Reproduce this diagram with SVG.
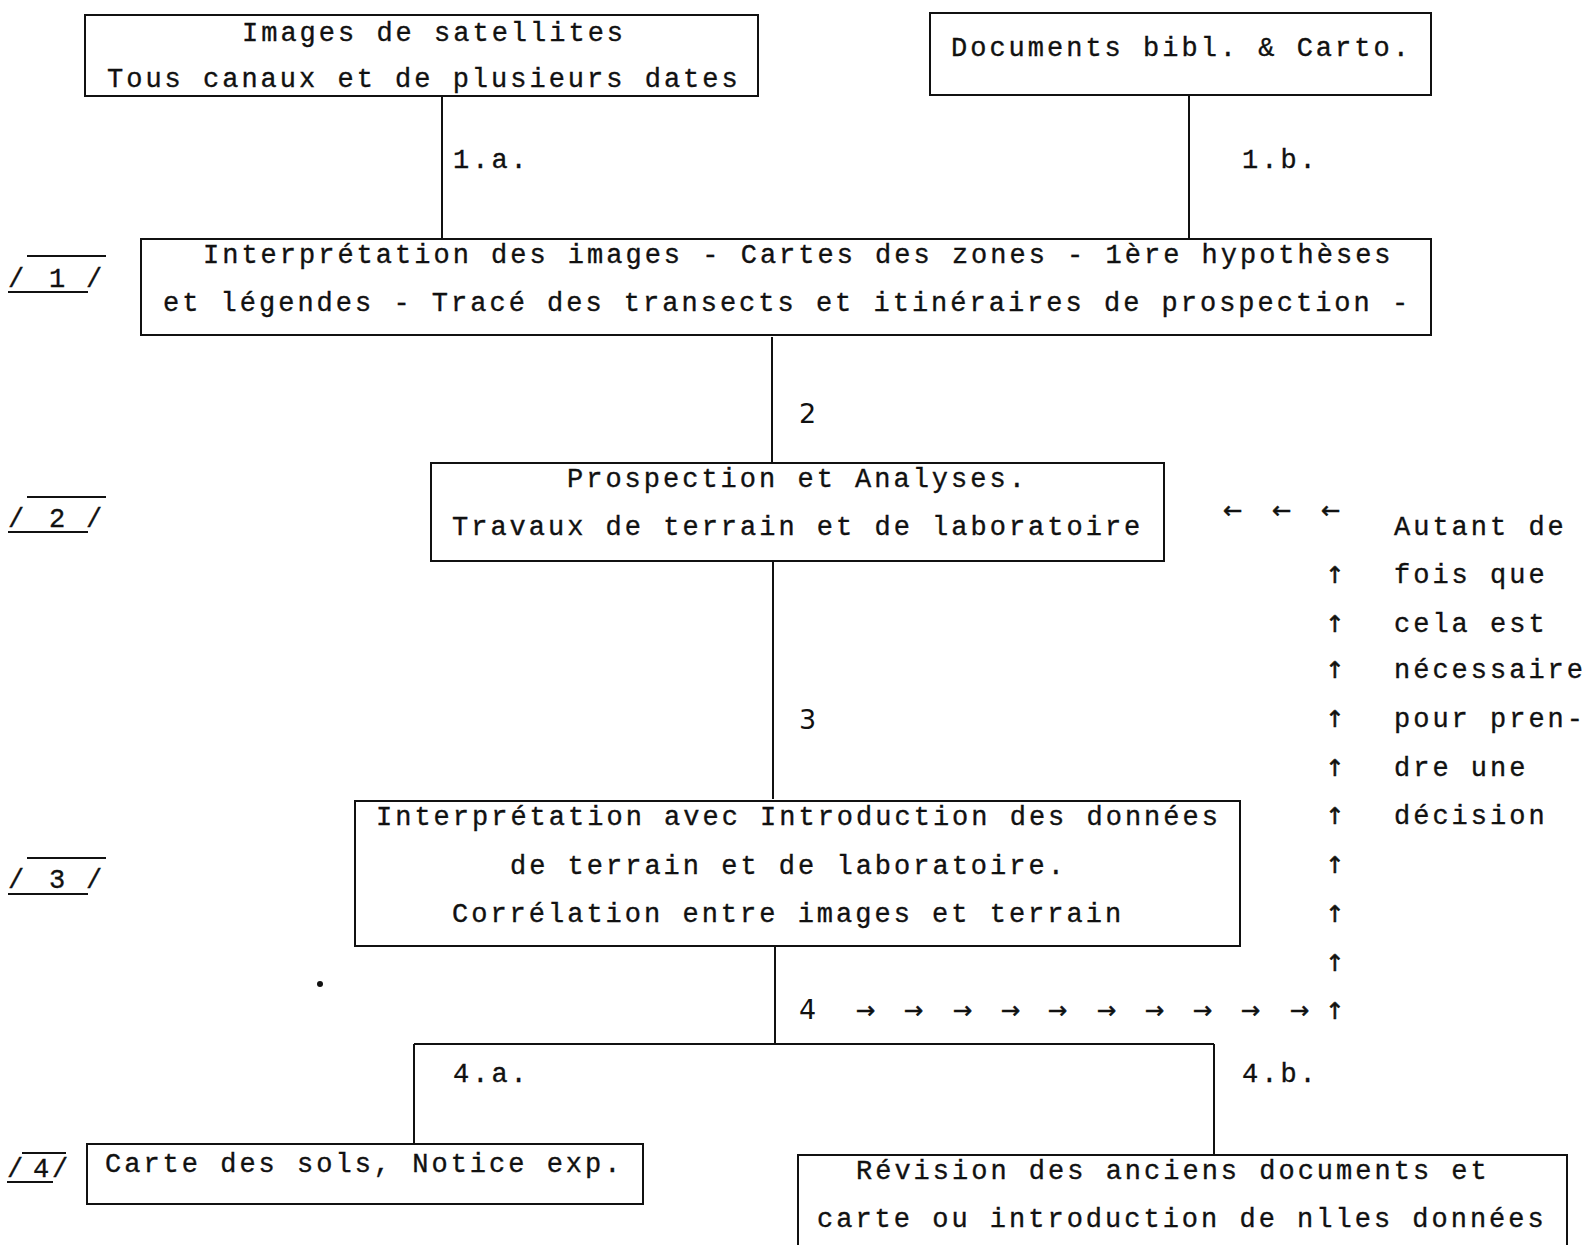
<svg xmlns="http://www.w3.org/2000/svg" width="1582" height="1245" viewBox="0 0 1582 1245">
<style>
.t{font-family:"Liberation Mono","DejaVu Sans Mono",monospace;font-size:27px;letter-spacing:3px;fill:#111;stroke:#111;stroke-width:0.35}
.n{font-family:"DejaVu Sans","Liberation Sans",sans-serif;font-size:27px;fill:#111}
.a{font-family:"DejaVu Sans","Liberation Mono",sans-serif;font-size:23px;fill:#111;stroke:#111;stroke-width:0.6}
.b{fill:none;stroke:#111;stroke-width:2}
.c{fill:none;stroke:#111;stroke-width:2}
</style>
<rect width="1582" height="1245" fill="#fff"/>
<g id="connectors">
<path class="c" d="M442 96V238M1189 95V238M772 337V462M773 561V799M775 946V1044M414 1044H1214M414 1044V1145M1214 1044V1155"/>
<text class="t" x="453" y="168">1.a.</text>
<text class="t" x="1242" y="168">1.b.</text>
<text class="n" x="799" y="423">2</text>
<text class="n" x="799" y="729">3</text>
<text class="n" x="799" y="1019">4</text>
<text class="t" x="453" y="1082">4.a.</text>
<text class="t" x="1242" y="1082">4.b.</text>
<g class="a">
<text x="1223" y="518">←</text><text x="1272" y="518">←</text><text x="1321" y="518">←</text>
<text x="1325" y="583">↑</text><text x="1325" y="632">↑</text><text x="1325" y="678">↑</text><text x="1325" y="727">↑</text><text x="1325" y="776">↑</text><text x="1325" y="824">↑</text><text x="1325" y="873">↑</text><text x="1325" y="922">↑</text><text x="1325" y="971">↑</text><text x="1325" y="1019">↑</text>
<text x="856" y="1018">→</text><text x="904" y="1018">→</text><text x="953" y="1018">→</text><text x="1001" y="1018">→</text><text x="1048" y="1018">→</text><text x="1097" y="1018">→</text><text x="1145" y="1018">→</text><text x="1193" y="1018">→</text><text x="1241" y="1018">→</text><text x="1290" y="1018">→</text>
</g>
</g>
<g id="note">
<text class="t" x="1394" y="535">Autant de</text>
<text class="t" x="1394" y="583">fois que</text>
<text class="t" x="1394" y="632">cela est</text>
<text class="t" x="1394" y="678">nécessaire</text>
<text class="t" x="1394" y="727">pour pren-</text>
<text class="t" x="1394" y="776">dre une</text>
<text class="t" x="1394" y="824">décision</text>
</g>
<g id="step-labels">
<g id="step1"><path class="c" d="M27 256H106M8 292H88"/><text class="t" x="8 49 86" y="287">/1/</text></g>
<g id="step2"><path class="c" d="M27 497H106M8 532H88"/><text class="t" x="8 49 86" y="527">/2/</text></g>
<g id="step3"><path class="c" d="M27 858H106M8 894H88"/><text class="t" x="8 49 86" y="888">/3/</text></g>
<g id="step4"><path class="c" d="M22 1153H66M7 1182H53"/><text class="t" x="7 33 52" y="1177">/4/</text></g>
</g>
<circle cx="320" cy="984" r="3" fill="#111"/>
<g id="node-satellites">
<rect class="b" x="85" y="15" width="673" height="81"/>
<text class="t" x="242" y="41">Images de satellites</text>
<text class="t" x="107" y="87">Tous canaux et de plusieurs dates</text>
</g>
<g id="node-documents">
<rect class="b" x="930" y="13" width="501" height="82"/>
<text class="t" x="951" y="56">Documents bibl. &amp; Carto.</text>
</g>
<g id="node-interpretation">
<rect class="b" x="141" y="239" width="1290" height="96"/>
<text class="t" x="203" y="263">Interprétation des images - Cartes des zones - 1ère hypothèses</text>
<text class="t" x="163" y="311">et légendes - Tracé des transects et itinéraires de prospection -</text>
</g>
<g id="node-prospection">
<rect class="b" x="431" y="463" width="733" height="98"/>
<text class="t" x="567" y="487">Prospection et Analyses.</text>
<text class="t" x="452" y="535">Travaux de terrain et de laboratoire</text>
</g>
<g id="node-correlation">
<rect class="b" x="355" y="801" width="885" height="145"/>
<text class="t" x="376" y="825">Interprétation avec Introduction des données</text>
<text class="t" x="510" y="874">de terrain et de laboratoire.</text>
<text class="t" x="452" y="922">Corrélation entre images et terrain</text>
</g>
<g id="node-carte">
<rect class="b" x="87" y="1144" width="556" height="60"/>
<text class="t" x="105" y="1172">Carte des sols, Notice exp.</text>
</g>
<g id="node-revision">
<rect class="b" x="798" y="1155" width="769" height="100"/>
<text class="t" x="856" y="1179">Révision des anciens documents et</text>
<text class="t" x="817" y="1227">carte ou introduction de nlles données</text>
</g>
</svg>
